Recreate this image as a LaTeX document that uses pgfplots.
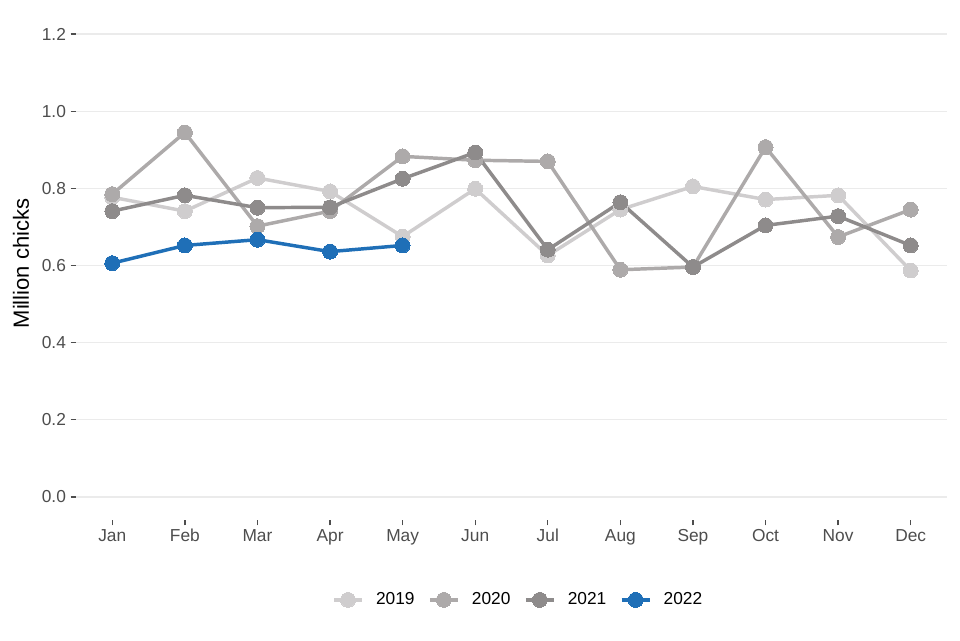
\documentclass[border=0pt]{standalone}
\usepackage{pgfplots}
\pgfplotsset{compat=1.18}
\usepackage{fontspec}
\setmainfont{Liberation Sans}

\definecolor{c2019}{HTML}{CFCDCE}
\definecolor{c2020}{HTML}{ADAAAA}
\definecolor{c2021}{HTML}{8E8B8B}
\definecolor{c2022}{HTML}{1F6FB7}
\definecolor{gridc}{HTML}{EBEBEB}
\definecolor{tickc}{HTML}{4D4D4D}

\begin{document}
\begin{tikzpicture}
  % canvas of the reference, 1px = 0.75pt
  \path[use as bounding box] (-57pt,-90pt) rectangle (663pt,390pt);
  \begin{axis}[
    scale only axis,
    width=653.25pt,
    height=381.75pt,
    at={(0pt,0pt)},
    anchor=south west,
    xmin=0.5, xmax=12.5,
    ymin=-0.06, ymax=1.26,
    xtick={1,...,12},
    xticklabels={Jan,Feb,Mar,Apr,May,Jun,Jul,Aug,Sep,Oct,Nov,Dec},
    xticklabel style={text height=1.6ex, text depth=0.3ex},
    ytick={0,0.2,...,1.2},
    yticklabel style={/pgf/number format/.cd,fixed,fixed zerofill,precision=1},
    /pgf/number format/assume math mode=true,
    ticklabel style={font=\fontsize{13}{15}\selectfont, text=tickc},
    tick pos=left,
    tick align=outside,
    major tick length=4pt,
    tick style={draw=tickc, line width=1pt},
    axis line style={draw=none},
    ymajorgrids,
    grid style={draw=gridc, line width=1pt},
    ylabel={Million chicks},
    ylabel style={at={(axis description cs:-0.063,0.504)}, anchor=center, rotate=0,
      font=\fontsize{16.5}{19}\selectfont},
    legend columns=4,
    legend style={
      at={(axis description cs:0.508,-0.157)}, anchor=center,
      draw=none, fill=none,
      font=\fontsize{13}{15}\selectfont,
      /tikz/every odd column/.append style={column sep=7pt},
      /tikz/every even column/.append style={column sep=8pt},
    },
    legend image code/.code={
      \draw[#1, line width=3pt, mark repeat=2, mark phase=2] plot coordinates {(0pt,0pt) (10.5pt,0pt) (21pt,0pt)};
    },
    every axis plot/.append style={line width=2.6pt, mark=*, mark size=5.6pt,
      mark options={line width=0pt}},
  ]

  \addplot[color=c2019] coordinates {
    (1,0.777) (2,0.741) (3,0.827) (4,0.792) (5,0.675) (6,0.799)
    (7,0.626) (8,0.745) (9,0.805) (10,0.771) (11,0.782) (12,0.587)};
  \addlegendentry{2019}

  \addplot[color=c2020] coordinates {
    (1,0.785) (2,0.945) (3,0.702) (4,0.741) (5,0.883) (6,0.873)
    (7,0.870) (8,0.589) (9,0.596) (10,0.907) (11,0.674) (12,0.745)};
  \addlegendentry{2020}

  \addplot[color=c2021] coordinates {
    (1,0.741) (2,0.782) (3,0.750) (4,0.751) (5,0.825) (6,0.893)
    (7,0.641) (8,0.764) (9,0.596) (10,0.704) (11,0.728) (12,0.652)};
  \addlegendentry{2021}

  \addplot[color=c2022] coordinates {
    (1,0.606) (2,0.652) (3,0.667) (4,0.636) (5,0.652)};
  \addlegendentry{2022}

  \end{axis}
\end{tikzpicture}
\end{document}
